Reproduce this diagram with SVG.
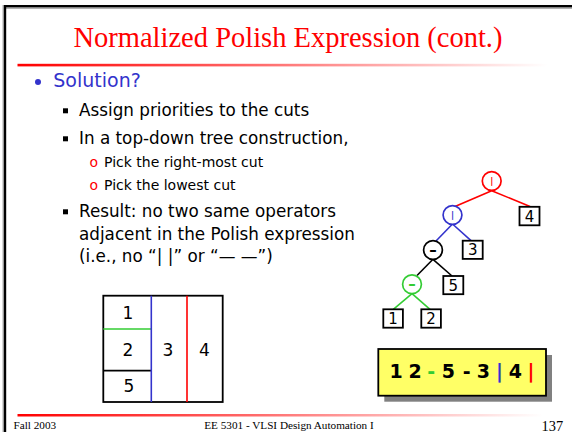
<svg xmlns="http://www.w3.org/2000/svg" width="572" height="432" viewBox="0 0 572 432">
<defs>
<linearGradient id="fade" x1="0" y1="0" x2="1" y2="0">
<stop offset="0" stop-color="#ff0000"/>
<stop offset="0.45" stop-color="#ff6a6a"/>
<stop offset="1" stop-color="#ffffff"/>
</linearGradient>
<style>
.title{font-family:"Liberation Serif","Times New Roman",serif;font-size:28.5px;fill:#ff0000;text-anchor:middle}
.l1{font-family:"DejaVu Sans",Verdana,sans-serif;font-size:19px;fill:#3333cc}
.l2{font-family:"DejaVu Sans",Verdana,sans-serif;font-size:16.8px;fill:#000}
.l3{font-family:"DejaVu Sans",Verdana,sans-serif;font-size:14px;fill:#000}
.ob{font-family:"DejaVu Sans",Verdana,sans-serif;font-size:14px;fill:#ff0000}
.foot{font-family:"Liberation Serif","Times New Roman",serif;font-size:11.2px;fill:#000}
.num{font-family:"Liberation Serif","Times New Roman",serif;font-size:14.4px;fill:#000}
.cell{font-family:"DejaVu Sans",Verdana,sans-serif;font-size:17px;fill:#000;text-anchor:middle}
.leaf rect{fill:#fff;stroke:#000;stroke-width:1.8}
.leaf text{font-family:"DejaVu Sans",Verdana,sans-serif;font-size:15px;fill:#000;text-anchor:middle}
.op circle{fill:#fff;stroke-width:1.7}
.opv{font-family:"DejaVu Sans",sans-serif;font-size:8.5px;font-weight:bold;text-anchor:middle}
.oph{font-family:"DejaVu Sans",sans-serif;font-size:15px;font-weight:bold;text-anchor:middle}
.expr{font-family:"DejaVu Sans",Verdana,sans-serif;font-size:19px;font-weight:bold;text-anchor:middle}
.edge{stroke-width:1.6;fill:none}
</style>
</defs>
<rect x="0" y="0" width="572" height="432" fill="#fff"/>
<!-- border -->
<line x1="3.3" y1="5" x2="3.3" y2="432" stroke="#999" stroke-width="1.4"/>
<line x1="4" y1="8" x2="572" y2="8" stroke="#999" stroke-width="1.4"/>
<line x1="5.1" y1="5" x2="5.1" y2="432" stroke="#000" stroke-width="2.2"/>
<line x1="4" y1="6.2" x2="572" y2="6.2" stroke="#000" stroke-width="2.3"/>

<text class="title" x="288" y="46.5">Normalized Polish Expression (cont.)</text>
<rect x="17.5" y="63.8" width="530" height="2.6" fill="url(#fade)"/>

<!-- bullets -->
<circle cx="38" cy="82" r="3" fill="#3333cc"/>
<text class="l1" x="53.3" y="87.3">Solution?</text>
<rect x="63" y="108.3" width="5" height="5" fill="#000"/>
<text class="l2" x="79" y="116">Assign priorities to the cuts</text>
<rect x="63" y="136.3" width="5" height="5" fill="#000"/>
<text class="l2" x="79" y="144">In a top-down tree construction,</text>
<text class="ob" x="89.5" y="167.3">o</text>
<text class="l3" x="104" y="167.3">Pick the right-most cut</text>
<text class="ob" x="89.5" y="190">o</text>
<text class="l3" x="104" y="190">Pick the lowest cut</text>
<rect x="63" y="209.3" width="5" height="5" fill="#000"/>
<text class="l2" x="79" y="217">Result: no two same operators</text>
<text class="l2" x="79" y="239.5">adjacent in the Polish expression</text>
<text class="l2" x="79" y="262">(i.e., no “| |” or “— —”)</text>

<!-- floorplan -->
<g id="floorplan">
<rect x="103.3" y="295.7" width="119.4" height="106.3" fill="#fff" stroke="#000" stroke-width="1.8"/>
<line x1="103.3" y1="329" x2="151.3" y2="329" stroke="#33cc33" stroke-width="1.7"/>
<line x1="103.3" y1="370.7" x2="151.3" y2="370.7" stroke="#000" stroke-width="1.7"/>
<line x1="151.3" y1="295.7" x2="151.3" y2="402" stroke="#3333cc" stroke-width="1.6"/>
<line x1="187" y1="295.7" x2="187" y2="402" stroke="#ff0000" stroke-width="1.6"/>
<text class="cell" x="128" y="319">1</text>
<text class="cell" x="128" y="356">2</text>
<text class="cell" x="129" y="392">5</text>
<text class="cell" x="168" y="355.5">3</text>
<text class="cell" x="204.5" y="355.5">4</text>
</g>

<!-- tree connectors -->
<g id="connectors">
<line class="edge" stroke="#ff0000" x1="491.7" y1="190.7" x2="455" y2="206.5"/>
<line class="edge" stroke="#ff0000" x1="491.7" y1="190.7" x2="530" y2="206.5"/>
<line class="edge" stroke="#3333cc" x1="452.5" y1="224" x2="436" y2="241"/>
<line class="edge" stroke="#3333cc" x1="452.5" y1="224" x2="471" y2="240.7"/>
<line class="edge" stroke="#000" x1="433" y1="259.3" x2="417" y2="275.5"/>
<line class="edge" stroke="#000" x1="433" y1="259.3" x2="452" y2="276"/>
<line class="edge" stroke="#33cc33" x1="412" y1="293.6" x2="393.3" y2="309.3"/>
<line class="edge" stroke="#33cc33" x1="412" y1="293.6" x2="430" y2="309.3"/>
</g>

<g id="op-root" class="op">
<circle cx="491.7" cy="181" r="9.4" stroke="#ff0000"/>
<text class="opv" x="491.7" y="183.6" fill="#ff0000">|</text>
</g>
<g id="op-blue" class="op">
<circle cx="452.5" cy="215" r="9.4" stroke="#3333cc"/>
<text class="opv" x="452.5" y="217.6" fill="#3333cc">|</text>
</g>
<g id="op-black" class="op">
<circle cx="433" cy="250" r="9.4" stroke="#000"/>
<text class="oph" x="433" y="254.8" fill="#000">–</text>
</g>
<g id="op-green" class="op">
<circle cx="412" cy="284.3" r="9.4" stroke="#33cc33"/>
<text class="oph" x="412" y="289.1" fill="#33cc33">–</text>
</g>

<g id="leaf4" class="leaf"><rect x="519.5" y="206.8" width="20" height="18.5"/><text x="529.5" y="221.5">4</text></g>
<g id="leaf3" class="leaf"><rect x="462.7" y="240.7" width="20" height="18.2"/><text x="472.7" y="255.3">3</text></g>
<g id="leaf5" class="leaf"><rect x="443.3" y="276" width="20" height="18.2"/><text x="453.3" y="290.6">5</text></g>
<g id="leaf1" class="leaf"><rect x="383.3" y="309.3" width="19.6" height="18.4"/><text x="393.1" y="324">1</text></g>
<g id="leaf2" class="leaf"><rect x="421.3" y="309.3" width="19.6" height="18.4"/><text x="431.1" y="324">2</text></g>

<!-- expression box -->
<g id="expression">
<rect x="384.3" y="355" width="167.7" height="46.7" fill="#808080"/>
<rect x="378.3" y="349" width="167.7" height="46.7" fill="#ffff66" stroke="#000" stroke-width="1.8"/>
<text class="expr" y="378.3"><tspan x="396" fill="#000">1</tspan><tspan x="415" fill="#000">2</tspan><tspan x="431.3" fill="#33cc33">-</tspan><tspan x="448.3" fill="#000">5</tspan><tspan x="466.7" fill="#000">-</tspan><tspan x="483.3" fill="#000">3</tspan><tspan x="499.5" fill="#3333cc">|</tspan><tspan x="515.3" fill="#000">4</tspan><tspan x="531" fill="#ff0000">|</tspan></text>
</g>

<!-- footer -->
<rect x="17.5" y="414" width="525" height="2.5" fill="url(#fade)"/>
<text class="foot" x="13.5" y="429">Fall 2003</text>
<text class="foot" x="289" y="429" text-anchor="middle">EE 5301 - VLSI Design Automation I</text>
<text class="num" x="541.5" y="430.5">137</text>
</svg>
